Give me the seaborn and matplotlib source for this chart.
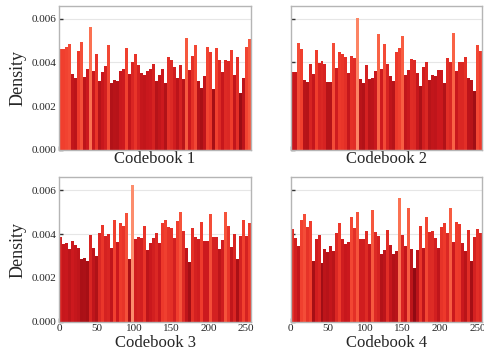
import numpy as np
import pandas as pd
import matplotlib
matplotlib.use("Agg")
import matplotlib.pyplot as plt
import seaborn as sns

# density per bin (x 1e-3), 64 bins of width 4 over codebook index 0..256
codebook1 = [4.63, 4.63, 4.71, 4.85, 3.47, 3.29, 4.53, 4.94, 3.33, 3.70, 5.63, 3.61, 4.39, 3.15, 3.56, 3.84,
             4.80, 3.06, 3.20, 3.15, 3.61, 3.70, 4.66, 3.47, 4.02, 4.39, 3.88, 3.52, 3.43, 3.61, 3.70, 3.93,
             3.15, 3.43, 3.70, 3.06, 4.25, 4.11, 3.79, 3.29, 3.88, 3.24, 5.12, 3.65, 4.30, 4.80, 3.15, 2.83,
             3.38, 4.71, 4.48, 2.78, 4.66, 4.11, 3.56, 4.11, 4.07, 4.57, 3.43, 4.25, 2.60, 3.29, 4.71, 5.08]
codebook2 = [3.58, 3.58, 4.90, 4.62, 3.20, 3.11, 3.94, 3.48, 4.58, 3.98, 4.07, 3.94, 3.11, 3.11, 4.90, 3.75,
             4.49, 4.40, 4.26, 3.52, 4.30, 4.21, 6.05, 3.25, 3.06, 3.89, 3.25, 3.29, 3.61, 5.31, 3.71, 4.85,
             3.94, 3.38, 3.15, 4.49, 4.67, 5.22, 3.43, 3.66, 4.17, 4.12, 3.52, 2.92, 3.80, 4.03, 3.20, 3.43,
             3.38, 3.66, 3.66, 3.06, 4.21, 4.03, 5.36, 3.61, 4.03, 4.03, 4.26, 3.29, 3.20, 2.70, 4.81, 4.53]
codebook3 = [3.88, 3.56, 3.60, 3.33, 3.69, 3.51, 3.37, 2.87, 2.92, 2.78, 3.97, 3.37, 3.01, 4.06, 4.43, 3.92,
             4.02, 3.37, 4.66, 3.65, 4.52, 4.38, 4.98, 2.87, 6.26, 3.79, 3.88, 3.83, 4.38, 3.28, 3.60, 3.83,
             4.06, 3.60, 4.52, 4.66, 4.34, 4.29, 3.83, 4.61, 5.02, 4.15, 3.37, 2.73, 4.29, 3.88, 3.79, 4.56,
             3.69, 3.69, 4.93, 3.88, 3.88, 3.33, 3.74, 5.02, 4.38, 3.42, 4.02, 2.87, 3.92, 4.66, 3.92, 4.52]
codebook4 = [4.24, 3.83, 3.47, 4.66, 4.93, 4.34, 4.61, 2.78, 3.79, 3.97, 2.69, 3.33, 3.19, 3.47, 3.24, 4.06,
             4.52, 3.79, 3.56, 3.65, 4.79, 4.29, 5.02, 3.79, 3.79, 4.15, 3.56, 5.11, 4.11, 3.92, 3.10, 3.28,
             4.20, 3.51, 3.10, 3.24, 5.66, 3.97, 3.47, 5.21, 3.33, 2.46, 3.28, 4.38, 3.37, 4.79, 4.11, 4.15,
             3.83, 3.37, 4.34, 4.52, 4.06, 5.21, 3.65, 4.56, 4.49, 3.60, 3.24, 4.20, 2.78, 3.88, 4.24, 4.06]
titles = ["Codebook 1", "Codebook 2", "Codebook 3", "Codebook 4"]
n_codes = 256
n_bins = 64

sns.set_style("whitegrid")
plt.rcParams["font.family"] = ["Liberation Serif", "DejaVu Serif"]

fig, axes = plt.subplots(2, 2, figsize=(4.84, 3.53), dpi=100, sharex=True, sharey=True)
fig.subplots_adjust(left=0.1225, right=0.996, top=0.984, bottom=0.0887, wspace=0.208, hspace=0.19)

cmap = plt.cm.Reds
centers = np.arange(n_bins) * (n_codes / n_bins) + n_codes / n_bins / 2

for ax, vals, title in zip(axes.flat, [codebook1, codebook2, codebook3, codebook4], titles):
    df = pd.DataFrame({"code": centers, "density": np.array(vals) * 1e-3})
    sns.histplot(data=df, x="code", weights="density", bins=n_bins, binrange=(0, n_codes),
                 stat="count", ax=ax, edgecolor="none", linewidth=0, alpha=1)
    # colour each bar by its height: tall bars lighter, short bars darker
    for p in ax.patches:
        h = p.get_height() * 1e3
        c = np.clip(1.25 - 0.137 * h, 0.3, 1.0)
        p.set_facecolor(cmap(c))
    ax.set_xlim(0, n_codes)
    ax.set_ylim(0, 0.0066)
    ax.set_yticks([0, 0.002, 0.004, 0.006])
    ax.set_yticklabels(["0.000", "0.002", "0.004", "0.006"])
    ax.set_xticks([0, 50, 100, 150, 200, 250])
    ax.grid(axis="x", visible=False)
    ax.grid(axis="y", color="#e6e6e6", linewidth=0.8)
    ax.set_axisbelow(True)
    for s in ax.spines.values():
        s.set_color("#b5b5b5")
        s.set_linewidth(1.0)
    ax.tick_params(axis="both", direction="in", length=3, width=1, color="#333333",
                   labelsize=8, pad=2, left=True, bottom=True)
    ax.set_xlabel(title, fontsize=12, labelpad=1)
    ax.xaxis.label.set_visible(True)
    ax.set_ylabel("")

for ax in axes[:, 0]:
    ax.set_ylabel("Density", fontsize=13, labelpad=4)
    ax.yaxis.label.set_visible(True)

fig.savefig("out.png", dpi=100)
